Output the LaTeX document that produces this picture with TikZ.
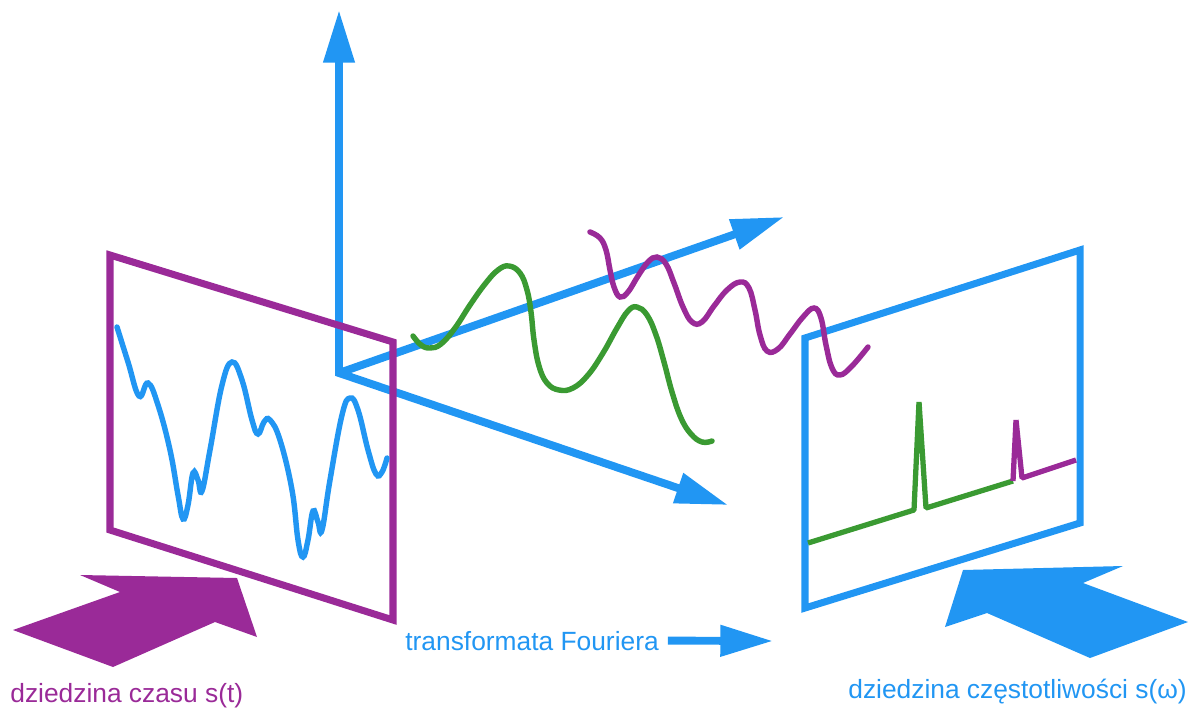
\documentclass[tikz,border=0pt]{standalone}
\usepackage{fontspec}
\setmainfont{Liberation Sans}
\usepackage{tikz}
\usetikzlibrary{arrows.meta}
\definecolor{TimePurple}{HTML}{9A2A98}
\definecolor{FreqBlue}{HTML}{2196F3}
\definecolor{WaveGreen}{HTML}{3A9A32}

\begin{document}
\begin{tikzpicture}[
  x=0.02cm, y=-0.02cm,
  >={Triangle[length=30pt,width=17pt]},
  every node/.style={font=\fontsize{15}{18}\selectfont, inner sep=0pt,
                     anchor=base west},
  axisarr/.style={->, draw=FreqBlue, line width=4.5pt},
  bothaxes/.style={<->, draw=FreqBlue, line width=4.5pt},
  panel/.style={line width=4pt, line join=miter},
  timepanel/.style={panel, draw=TimePurple},
  freqpanel/.style={panel, draw=FreqBlue},
  wave/.style={line width=3.1pt, line cap=round, smooth, tension=0.7},
  spectrum/.style={line width=3pt, line join=bevel}
]

\useasboundingbox (0,0) rectangle (1193,707);

\coordinate (ORIG)     at (339,373);
\coordinate (UPTIP)    at (339,10);
\coordinate (BACKTIP)  at (784,217);
\coordinate (FRONTTIP) at (728,505);

\draw[axisarr] (ORIG) -- (BACKTIP);
\draw[bothaxes] (UPTIP) -- (ORIG) -- (FRONTTIP);

\draw[timepanel] (110,255) -- (393,342) -- (393,620) -- (110,530) -- cycle;
\draw[freqpanel] (805,338) -- (1080,250) -- (1080,523) -- (805,608) -- cycle;

\draw[wave, FreqBlue] plot coordinates {
  (117,327) (128,362) (139,396) (148,383) (158,405) (170,450) (178,495)
  (183,519) (188,505) (193,473) (198,480) (202,491) (210,450) (222,385)
  (232,362) (242,380) (252,420) (258,434) (264,422) (270,420) (280,440)
  (292,490) (298,540) (303,557) (308,540) (313,511) (318,522) (322,530)
  (330,480) (342,415) (350,398) (358,410) (368,450) (376,474) (382,472)
  (387,458)};

\draw[wave, WaveGreen] plot coordinates {
  (413,336) (421,345) (430,348) (441,344) (455,328) (470,305) (485,284)
  (498,270) (509,266) (520,273) (527,290) (531,312) (534,340) (539,366)
  (547,383) (559,390) (573,388) (588,375) (603,353) (617,328) (628,311)
  (637,307) (647,315) (656,335) (664,362) (672,392) (681,418) (691,434)
  (702,442) (712,441)};

\draw[wave, TimePurple] plot coordinates {
  (590,232) (600,238) (606,250) (610,270) (614,287) (620,297) (628,292)
  (638,276) (648,262) (657,257) (666,264) (674,283) (683,307) (692,322)
  (702,322) (714,306) (727,290) (740,282) (749,288) (755,310) (760,335)
  (767,351) (778,349) (790,334) (803,317) (814,308) (821,318) (826,345)
  (832,368) (840,375) (852,366) (868,347)};

\draw[spectrum, WaveGreen] (808,543) -- (914,510) -- (919,402) -- (926,508)
  -- (1013,481);
\draw[spectrum, TimePurple] (1013,481) -- (1016,420) -- (1022,478)
  -- (1076,460);

\fill[TimePurple] (237,578) -- (80,575) -- (120,592) -- (13,630)
  -- (113,667) -- (215,622) -- (257,637) -- cycle;
\fill[FreqBlue] (963,570) -- (1123,566) -- (1083,583) -- (1188,622)
  -- (1090,658) -- (987,613) -- (945,627) -- cycle;

\node[text=TimePurple] (TIME) at (10,702) {dziedzina czasu s(t)};
\node[text=FreqBlue]   (FT)   at (405,650) {transformata Fouriera};
\node[text=FreqBlue]   (FREQ) at (848,698) {dziedzina częstotliwości s(ω)};

\coordinate (FTTIP) at (773,641);
\draw[axisarr] ([xshift=5pt]FT.east) -- (FTTIP);

\end{tikzpicture}
\end{document}
